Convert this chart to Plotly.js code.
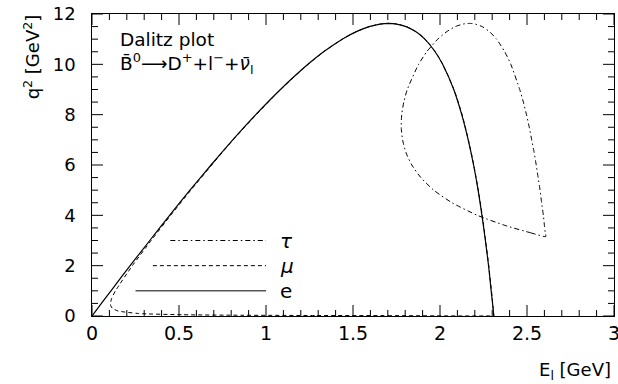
<!DOCTYPE html>
<html>
<head>
<meta charset="utf-8">
<script src="https://cdn.plot.ly/plotly-3.0.1.min.js"></script>
</head>
<body style="margin:0">
<div id="chart"></div>
<script>
// electron boundary: q^2 grid with lower (left) and upper (right) E_l edges
var eQ2    = [0, 0.5, 1, 2, 3, 4, 5, 6, 7, 8, 9, 10, 10.5, 11, 11.3, 11.5, 11.6, 11.62, 11.627];
var eLeft  = [0, 0.054, 0.109, 0.219, 0.332, 0.446, 0.563, 0.684, 0.809, 0.941, 1.083, 1.241, 1.331, 1.438, 1.519, 1.593, 1.656, 1.681, 1.705];
var eRight = [2.309, 2.302, 2.294, 2.279, 2.261, 2.241, 2.219, 2.193, 2.162, 2.125, 2.079, 2.015, 1.972, 1.913, 1.860, 1.805, 1.751, 1.728, 1.705];

// muon boundary
var muQ2    = [0.0112, 0.015, 0.02, 0.03, 0.05, 0.1, 0.2, 0.3, 0.4, 0.486, 0.7, 1, 2, 3, 4, 5, 6, 7, 8, 9, 10, 10.5, 11, 11.3, 11.5, 11.6, 11.62, 11.627];
var muLeft  = [2.310, 1.720, 1.291, 0.862, 0.521, 0.268, 0.150, 0.118, 0.108, 0.106, 0.113, 0.135, 0.232, 0.340, 0.452, 0.568, 0.688, 0.811, 0.944, 1.084, 1.242, 1.332, 1.439, 1.520, 1.594, 1.657, 1.682, 1.706];
var muRight = [2.310, 2.310, 2.310, 2.309, 2.309, 2.308, 2.307, 2.306, 2.304, 2.303, 2.300, 2.296, 2.280, 2.262, 2.243, 2.220, 2.194, 2.163, 2.127, 2.080, 2.016, 1.973, 1.914, 1.861, 1.806, 1.752, 1.729, 1.706];

// tau boundary
var tauQ2    = [3.157, 3.3, 3.6, 4, 4.5, 5, 5.5, 6, 6.5, 7, 7.5, 8, 8.5, 9, 10, 10.5, 11, 11.3, 11.5, 11.6, 11.62, 11.627];
var tauLeft  = [2.608, 2.524, 2.373, 2.215, 2.069, 1.964, 1.890, 1.838, 1.804, 1.785, 1.777, 1.780, 1.792, 1.812, 1.877, 1.924, 1.987, 2.039, 2.088, 2.133, 2.151, 2.168];
var tauRight = [2.608, 2.605, 2.600, 2.594, 2.584, 2.575, 2.564, 2.553, 2.541, 2.527, 2.513, 2.497, 2.479, 2.458, 2.407, 2.372, 2.325, 2.284, 2.242, 2.202, 2.185, 2.168];

// axis ticks
var xRange = [0, 3], xMajor = 0.5, xMinor = 0.1;
var yRange = [0, 12], yMajor = 2, yMinor = 0.5;

// legend entries
var legNames = ['<i>τ</i>', '<i>μ</i>', 'e'];
var legY     = [3, 2, 1];
var legX0    = [0.45, 0.35, 0.25];
var legX1    = [1.0, 1.0, 1.0];
var legDash  = ['5px,3px,1.5px,3px', '4px,3px', 'solid'];

var W = 618, H = 384, M = { l: 92, r: 4, t: 14, b: 68 };
var plotW = W - M.l - M.r, plotH = H - M.t - M.b;

function loop(q, l, r) {
  return { x: l.concat(r.slice().reverse()), y: q.concat(q.slice().reverse()) };
}
var eP = loop(eQ2, eLeft, eRight);
var muP = loop(muQ2, muLeft, muRight);
var tauP = loop(tauQ2, tauLeft, tauRight);

// inside tick marks on all four sides, as one line trace (lengths given in pixels)
function tickTrace() {
  var tx = [], ty = [];
  var xpp = (xRange[1] - xRange[0]) / plotW, ypp = (yRange[1] - yRange[0]) / plotH;
  var nx = Math.round((xRange[1] - xRange[0]) / xMinor), rx = Math.round(xMajor / xMinor);
  for (var k = 0; k <= nx; k++) {
    var v = xRange[0] + k * xMinor, len = (k % rx === 0 ? 11 : 6) * ypp;
    tx.push(v, v, null, v, v, null);
    ty.push(yRange[0], yRange[0] + len, null, yRange[1], yRange[1] - len, null);
  }
  var ny = Math.round((yRange[1] - yRange[0]) / yMinor), ry = Math.round(yMajor / yMinor);
  for (var j = 0; j <= ny; j++) {
    var w = yRange[0] + j * yMinor, lx = (j % ry === 0 ? 11 : 6) * xpp;
    tx.push(xRange[0], xRange[0] + lx, null, xRange[1], xRange[1] - lx, null);
    ty.push(w, w, null, w, w, null);
  }
  return { x: tx, y: ty, mode: 'lines', line: { color: '#000', width: 1 }, connectgaps: false, hoverinfo: 'skip', cliponaxis: false };
}

var FONT = 'DejaVu Sans, sans-serif';
var traces = [
  tickTrace(),
  { x: tauP.x, y: tauP.y, mode: 'lines', line: { color: '#000', width: 1, dash: legDash[0], shape: 'spline', smoothing: 0.6 }, hoverinfo: 'skip' },
  { x: muP.x, y: muP.y, mode: 'lines', line: { color: '#000', width: 1, dash: legDash[1], shape: 'spline', smoothing: 0.6 }, hoverinfo: 'skip' },
  { x: eP.x, y: eP.y, mode: 'lines', line: { color: '#000', width: 1.2, shape: 'spline', smoothing: 0.6 }, hoverinfo: 'skip' }
];

var shapes = [];
var annotations = [];
for (var i = 0; i < legNames.length; i++) {
  shapes.push({ type: 'line', xref: 'x', yref: 'y', x0: legX0[i], x1: legX1[i], y0: legY[i], y1: legY[i],
    line: { color: '#000', width: 1, dash: legDash[i] } });
  annotations.push({ xref: 'x', yref: 'y', x: 1.07, y: legY[i], xanchor: 'left', yanchor: 'middle',
    text: legNames[i], showarrow: false, font: { family: FONT, size: 20, color: '#000' } });
}
annotations.push({ xref: 'x', yref: 'y', x: 0.15, y: 10.45, xanchor: 'left', yanchor: 'middle', align: 'left',
  text: 'Dalitz plot<br>B\u0304<sup>0</sup>\u27F6D<sup>+</sup>+l<sup>\u2212</sup>+<i>\u03BD\u0304</i><sub>l</sub>', showarrow: false,
  font: { family: FONT, size: 18.5, color: '#000' } });
annotations.push({ xref: 'paper', yref: 'paper', x: -0.116, y: 0.858, xanchor: 'center', yanchor: 'middle', textangle: -90,
  text: 'q<sup>2</sup> [GeV<sup>2</sup>]', showarrow: false, font: { family: FONT, size: 18, color: '#000' } });
annotations.push({ xref: 'paper', yref: 'paper', x: 0.998, y: -0.183, xanchor: 'right', yanchor: 'middle',
  text: 'E<sub>l</sub> [GeV]', showarrow: false, font: { family: FONT, size: 18, color: '#000' } });

function axis(range, major, fsize, suffix) {
  return {
    range: range, dtick: major, tick0: 0, ticks: '',
    showline: true, linecolor: '#000', linewidth: 1.3, mirror: true,
    showgrid: false, zeroline: false, ticksuffix: suffix, ticklabeloverflow: 'allow',
    tickfont: { family: FONT, size: fsize, color: '#000' }
  };
}

var layout = {
  width: W, height: H,
  margin: M,
  paper_bgcolor: '#fff', plot_bgcolor: '#fff',
  showlegend: false,
  xaxis: axis(xRange, xMajor, 19, ''),
  yaxis: axis(yRange, yMajor, 18, '  '),
  shapes: shapes,
  annotations: annotations
};

Plotly.newPlot('chart', traces, layout, { staticPlot: true });
</script>
</body>
</html>
